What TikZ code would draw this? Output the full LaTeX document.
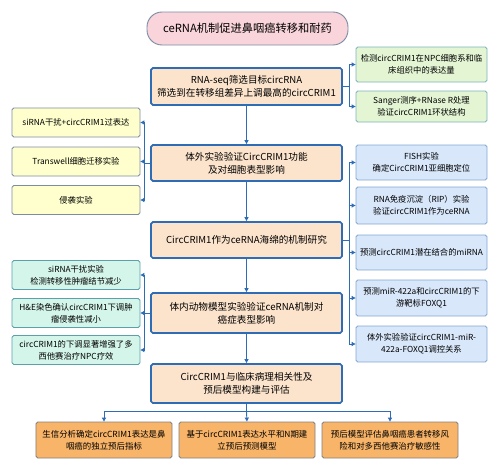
\documentclass[tikz,border=0pt]{standalone}
\usepackage{fontspec}
\setmainfont{Noto Sans CJK SC}
\definecolor{flowblue}{RGB}{46,108,182}
\definecolor{flowpeach}{RGB}{252,228,204}
\definecolor{flowpink}{RGB}{249,212,218}
\definecolor{flowgray}{RGB}{125,140,165}
\definecolor{flowyellow}{RGB}{255,255,206}
\definecolor{flowcyan}{RGB}{212,245,234}
\definecolor{flowteal}{RGB}{92,160,172}
\definecolor{flowgreen}{RGB}{228,245,212}
\definecolor{flowsky}{RGB}{216,231,250}
\definecolor{floworange}{RGB}{248,180,104}
\usetikzlibrary{arrows.meta}

\begin{document}
\begin{tikzpicture}[font=\small,
    every node/.style={align=center, inner sep=1pt},
    mainbox/.style={draw=flowblue, line width=1.5pt, fill=flowpeach, rounded corners=1.5pt,
      minimum width=5.73cm, font=\fontsize{8.2}{11}\selectfont},
    sidebox/.style={draw=flowgray, line width=0.7pt, rounded corners=1.5pt,
      minimum width=3.9cm, font=\fontsize{7.1}{10}\selectfont},
    leftbox/.style={sidebox, minimum width=3.84cm, minimum height=0.87cm},
    rightbox/.style={sidebox, minimum width=3.93cm, minimum height=1.05cm},
    endbox/.style={draw=gray, line width=0.7pt, fill=floworange, rounded corners=1.5pt,
      minimum width=4.08cm, minimum height=1.08cm, font=\fontsize{7.2}{10}\selectfont},
    link/.style={draw=flowblue, line width=0.8pt},
    tip/.style={-{Triangle[length=1.2mm,width=1.2mm]}}]
    \useasboundingbox (0,0) rectangle (14.97,14.1);

    % Title
    \node[draw=flowgray, line width=0.8pt, fill=flowpink, rounded corners=0.45cm,
      minimum width=6.03cm, minimum height=0.99cm,
      font=\fontsize{9.6}{12}\selectfont] (title) at (7.425,13.245) {ceRNA机制促进鼻咽癌转移和耐药};

    % Main column
    \node[mainbox, minimum height=1.11cm] (b1) at (7.395,11.505)
      {RNA-seq筛选目标circRNA\\筛选到在转移组差异上调最高的circCRIM1};
    \node[mainbox, minimum height=1.08cm] (b2) at (7.395,9.21)
      {体外实验验证CircCRIM1功能\\及对细胞表型影响};
    \node[mainbox, minimum height=1.08cm] (b3) at (7.395,6.9)
      {CircCRIM1作为ceRNA海绵的机制研究};
    \node[mainbox, minimum height=1.2cm] (b4) at (7.395,4.71)
      {体内动物模型实验验证ceRNA机制对\\癌症表型影响};
    \node[mainbox, minimum height=1.17cm] (b5) at (7.395,2.595)
      {CircCRIM1与临床病理相关性及\\预后模型构建与评估};

    % Left column: in vitro
    \node[leftbox, fill=flowyellow] (l1) at (2.28,10.425) {siRNA干扰+circCRIM1过表达};
    \node[leftbox, fill=flowyellow] (l2) at (2.28,9.255) {Transwell细胞迁移实验};
    \node[leftbox, fill=flowyellow] (l3) at (2.28,8.1) {侵袭实验};

    % Left column: in vivo
    \node[leftbox, draw=flowteal, fill=flowcyan] (l4) at (2.28,5.85)
      {siRNA干扰实验\\检测转移性肿瘤结节减少};
    \node[leftbox, draw=flowteal, fill=flowcyan] (l5) at (2.28,4.71)
      {H\&E染色确认circCRIM1下调肿\\瘤侵袭性减小};
    \node[leftbox, draw=flowteal, fill=flowcyan] (l6) at (2.28,3.6)
      {circCRIM1的下调显著增强了多\\西他赛治疗NPC疗效};

    % Right column: expression
    \node[rightbox, draw=flowteal!80, fill=flowgreen] (r1) at (12.645,12.165)
      {检测circCRIM1在NPC细胞系和临\\床组织中的表达量};
    \node[rightbox, draw=flowteal!80, fill=flowgreen, minimum height=0.93cm] (r2) at (12.645,10.905)
      {Sanger测序+RNase R处理\\验证circCRIM1环状结构};

    % Right column: mechanism
    \node[rightbox, draw=flowblue!60, fill=flowsky] (r3) at (12.645,9.225)
      {FISH实验\\确定CircCRIM1亚细胞定位};
    \node[rightbox, draw=flowblue!60, fill=flowsky, minimum height=1.11cm] (r4) at (12.645,7.935)
      {RNA免疫沉淀（RIP）实验\\验证circCRIM1作为ceRNA};
    \node[rightbox, draw=flowblue!60, fill=flowsky] (r5) at (12.645,6.525)
      {预测circCRIM1潜在结合的miRNA};
    \node[rightbox, draw=flowblue!60, fill=flowsky, minimum height=1.08cm] (r6) at (12.645,5.16)
      {预测miR-422a和circCRIM1的下\\游靶标FOXQ1};
    \node[rightbox, draw=flowblue!60, fill=flowsky, minimum height=1.08cm] (r7) at (12.645,3.78)
      {体外实验验证circCRIM1-miR-\\422a-FOXQ1调控关系};

    % Bottom row
    \node[endbox] (d1) at (3.12,0.9) {生信分析确定circCRIM1表达是鼻\\咽癌的独立预后指标};
    \node[endbox] (d2) at (7.41,0.9) {基于circCRIM1表达水平和N期建\\立预后预测模型};
    \node[endbox] (d3) at (11.7,0.9) {预后模型评估鼻咽癌患者转移风\\险和对多西他赛治疗敏感性};

    % Main flow
    \draw[link,tip] (b1) -- (b2);
    \draw[link,tip] (b2) -- (b3);
    \draw[link,tip] (b3) -- (b4);
    \draw[link,tip] (b4) -- (b5);

    % Brackets to the right
    \draw[link] (b1.east) -- ++(0.21,0) coordinate (jr1);
    \foreach \r in {r1,r2} \draw[link,tip] (jr1) |- (\r.west);
    \draw[link] (b3.east) -- ++(0.21,0) coordinate (jr3);
    \foreach \r in {r3,r4,r5,r6,r7} \draw[link,tip] (jr3) |- (\r.west);

    % Brackets to the left
    \draw[link] (b2.west) -- ++(-0.18,0) coordinate (jl2);
    \foreach \l in {l1,l2,l3} \draw[link,tip] (jl2) |- (\l.east);
    \draw[link] (b4.west) -- ++(-0.18,0) coordinate (jl4);
    \foreach \l in {l4,l5,l6} \draw[link,tip] (jl4) |- (\l.east);

    % Split to bottom row
    \draw[link] (b5.south) -- ++(0,-0.24) coordinate (jd);
    \draw[link,tip] (jd) -| (d1.north);
    \draw[link,tip] (jd) -- (d2.north);
    \draw[link,tip] (jd) -| (d3.north);
  \end{tikzpicture}
\end{document}
